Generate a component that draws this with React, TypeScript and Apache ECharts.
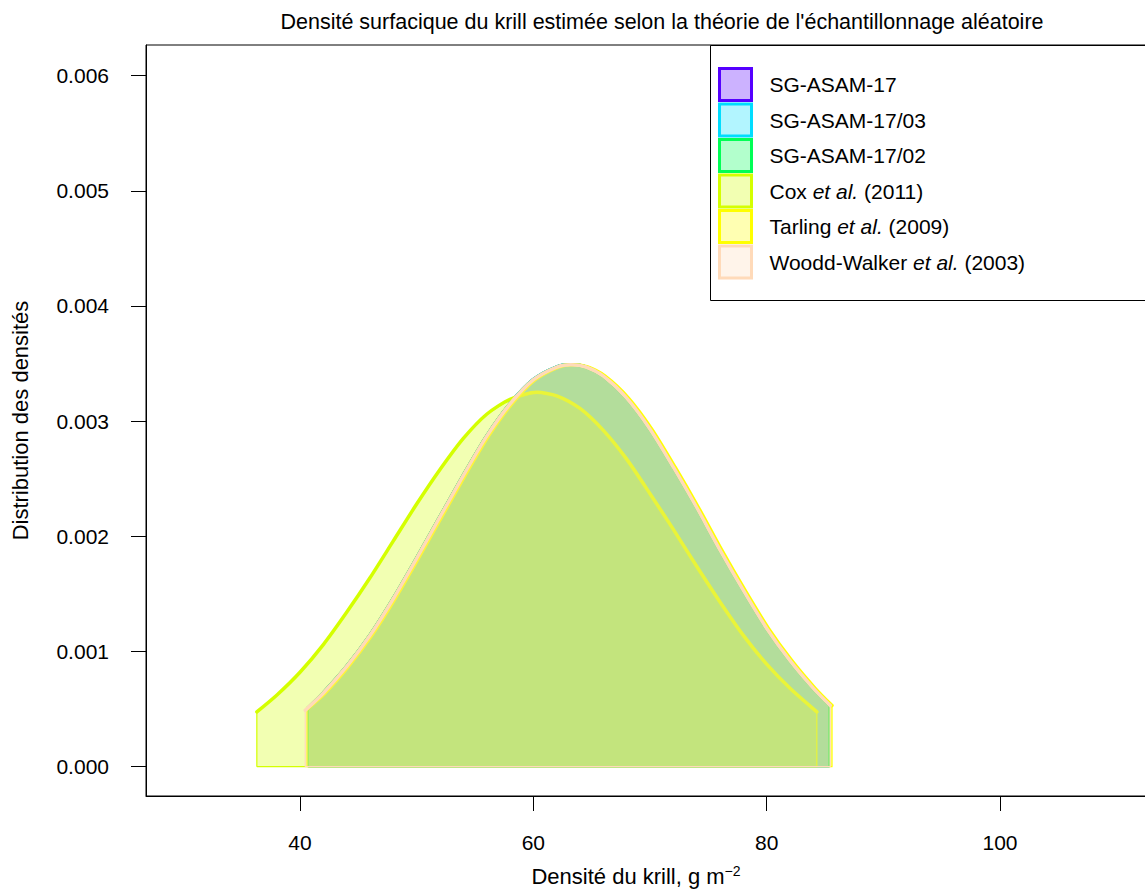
import React, { useEffect, useRef } from "react";
import * as echarts from "echarts";

const FONT = "'Liberation Sans', Arial, Helvetica, sans-serif";

const titleText = "Densité surfacique du krill estimée selon la théorie de l'échantillonnage aléatoire";
const xAxisTitle = "Densité du krill, g m{sup|−2}";
const yAxisTitle = "Distribution des densités";

const seriesNames = [
  "SG-ASAM-17",
  "SG-ASAM-17/03",
  "SG-ASAM-17/02",
  "Cox et al. (2011)",
  "Tarling et al. (2009)",
  "Woodd-Walker et al. (2003)",
];
const lineColors = ["#5500ff", "#00ddff", "#00ff55", "#d4ff00", "#ffff00", "#ffdab9"];
const fillColors = [
  "rgba(85,0,255,0.3)",
  "rgba(0,221,255,0.3)",
  "rgba(0,255,85,0.3)",
  "rgba(212,255,0,0.3)",
  "rgba(255,255,0,0.3)",
  "rgba(255,218,185,0.3)",
];

// SG-ASAM-17, SG-ASAM-17/03 and SG-ASAM-17/02 (curves lie on top of each other)
const sgAsamX = [40.7, 42, 44, 46, 48, 50, 52, 54, 56, 58, 60, 62, 63.2, 64.5, 66, 68, 70, 72, 74, 76, 78, 80, 82, 84, 85.35];
const sgAsamY = [0.00051, 0.00064, 0.00087, 0.00114, 0.00146, 0.00181, 0.00217, 0.00253, 0.00287, 0.00315, 0.00336, 0.00347, 0.00349, 0.00347, 0.00339, 0.0032, 0.00293, 0.0026, 0.00225, 0.00188, 0.00153, 0.0012, 0.00092, 0.00068, 0.00054];

// Cox et al. (2011)
const coxX = [36.3, 38, 40, 42, 44, 46, 48, 50, 52, 54, 56, 58, 60.3, 62, 64, 66, 68, 70, 72, 74, 76, 78, 80, 82, 84.3];
const coxY = [0.000475, 0.00062, 0.00082, 0.00106, 0.00134, 0.00164, 0.00196, 0.00228, 0.00258, 0.00285, 0.00306, 0.00319, 0.00325, 0.00322, 0.00311, 0.00292, 0.00267, 0.00237, 0.00206, 0.00174, 0.00143, 0.00114, 0.00089, 0.00068, 0.000475];

// Tarling et al. (2009)
const tarlingX = [40.6, 42.15, 44.15, 46.15, 48.15, 50.15, 52.15, 54.15, 56.15, 58.15, 60.15, 62.15, 63.35, 64.65, 66.15, 68.15, 70.15, 72.15, 74.15, 76.15, 78.15, 80.15, 82.15, 84.15, 85.6];
const tarlingY = [0.0005, 0.00064, 0.00087, 0.00114, 0.00146, 0.00181, 0.00217, 0.00253, 0.00287, 0.00315, 0.00336, 0.00347, 0.00349, 0.00347, 0.00339, 0.0032, 0.00293, 0.0026, 0.00225, 0.00188, 0.00153, 0.0012, 0.00092, 0.00068, 0.00053];

// Woodd-Walker et al. (2003)
const wwX = [40.45, 42, 44, 46, 48, 50, 52, 54, 56, 58, 60, 62, 63.2, 64.5, 66, 68, 70, 72, 74, 76, 78, 80, 82, 84, 85.45];
const wwY = [0.00049, 0.00064, 0.00087, 0.00114, 0.00146, 0.00181, 0.00217, 0.00253, 0.00287, 0.00315, 0.00336, 0.00347, 0.00349, 0.00347, 0.00339, 0.0032, 0.00293, 0.0026, 0.00225, 0.00188, 0.00153, 0.0012, 0.00092, 0.00068, 0.00053];

const xTicks = [40, 60, 80, 100];
const yTicks = [0, 0.001, 0.002, 0.003, 0.004, 0.005, 0.006];

const curveSets = [
  { x: sgAsamX, y: sgAsamY },
  { x: sgAsamX, y: sgAsamY },
  { x: sgAsamX, y: sgAsamY },
  { x: coxX, y: coxY },
  { x: tarlingX, y: tarlingY },
  { x: wwX, y: wwY },
];

function curvePoints(xs: number[], ys: number[]) {
  return xs.map((x, i) => [x, ys[i]]);
}
function polygonPoints(xs: number[], ys: number[]) {
  const first = xs[0];
  const last = xs[xs.length - 1];
  return [[first, 0], ...curvePoints(xs, ys), [last, 0], [first, 0]];
}

const CHART_W = 1180;

export default function App() {
  const ref = useRef<HTMLDivElement>(null);
  useEffect(() => {
    if (!ref.current) return;
    const chart = echarts.init(ref.current, null, { renderer: "svg" });
    const series: any[] = [];
    let z = 2;
    curveSets.forEach((c, i) => {
      series.push({
        type: "line",
        name: seriesNames[i],
        data: polygonPoints(c.x, c.y),
        z: z++,
        showSymbol: false,
        symbol: "none",
        lineStyle: { color: lineColors[i], width: 1.2, join: "round" },
        itemStyle: { color: lineColors[i] },
        areaStyle: { color: fillColors[i], opacity: 1 },
        silent: true,
      });
      series.push({
        type: "line",
        name: seriesNames[i],
        data: curvePoints(c.x, c.y),
        z: z++,
        showSymbol: false,
        symbol: "none",
        smooth: 0.25,
        lineStyle: { color: lineColors[i], width: 3.5, cap: "round", join: "round" },
        itemStyle: { color: lineColors[i] },
        silent: true,
      });
    });
    chart.setOption({
      animation: false,
      title: {
        text: titleText,
        left: 662,
        top: 11,
        padding: 0,
        textAlign: "center",
        textVerticalAlign: "top",
        textStyle: { fontSize: 21.5, fontWeight: "normal", color: "#000", fontFamily: FONT },
      },
      grid: {
        left: 146,
        top: 45,
        right: CHART_W - 1177,
        bottom: 95.3,
        show: true,
        borderColor: "#000",
        borderWidth: 1,
        backgroundColor: "transparent",
      },
      xAxis: {
        type: "value",
        min: 26.8,
        max: 115.17,
        splitLine: { show: false },
        axisLine: { show: true, onZero: false, lineStyle: { color: "#000", width: 1 } },
        axisTick: { show: true, length: 15, customValues: xTicks, lineStyle: { color: "#000" } },
        axisLabel: { customValues: xTicks, fontSize: 21, color: "#000", margin: 35.5, fontFamily: FONT },
        name: xAxisTitle,
        nameLocation: "middle",
        nameGap: 68,
        nameTextStyle: {
          fontSize: 22,
          color: "#000",
          fontFamily: FONT,
          padding: [0, 51, 0, 0],
          rich: {
            sup: { fontSize: 14, color: "#000", fontFamily: FONT, verticalAlign: "top", lineHeight: 24 },
          },
        },
      },
      yAxis: {
        type: "value",
        min: -0.000255,
        max: 0.006266,
        splitLine: { show: false },
        axisLine: { show: true, onZero: false, lineStyle: { color: "#000", width: 1 } },
        axisTick: { show: true, length: 15, customValues: yTicks, lineStyle: { color: "#000" } },
        axisLabel: {
          customValues: yTicks,
          fontSize: 21,
          color: "#000",
          margin: 37,
          fontFamily: FONT,
          formatter: (v: number) => v.toFixed(3),
        },
        name: yAxisTitle,
        nameLocation: "middle",
        nameGap: 115,
        nameTextStyle: { fontSize: 22, color: "#000", fontFamily: FONT },
      },
      legend: {
        orient: "vertical",
        left: 718,
        top: 67,
        padding: 0,
        itemWidth: 32,
        itemHeight: 32,
        itemGap: 0.5,
        icon: "rect",
        selectedMode: false,
        data: seriesNames.map((n, i) => ({
          name: n,
          icon: "rect",
          itemStyle: { color: fillColors[i], borderColor: lineColors[i], borderWidth: 3 },
        })),
        formatter: (n: string) => n.replace("et al.", "{i|et al.}"),
        textStyle: {
          fontSize: 21,
          color: "#000",
          fontFamily: FONT,
          padding: [0, 0, 0, 13],
          rich: {
            i: { fontSize: 21, color: "#000", fontFamily: FONT, fontStyle: "italic" },
          },
        },
      },
      graphic: [
        {
          type: "rect",
          shape: { x: 710.5, y: 45.5, width: 600, height: 255 },
          style: { fill: "none", stroke: "#000", lineWidth: 1 },
          silent: true,
        },
      ],
      series,
    });
    return () => chart.dispose();
  }, []);
  return (
    <div
      style={{ position: "fixed", left: 0, top: 0, width: 1145, height: 892, overflow: "hidden", background: "#fff" }}
    >
      <div ref={ref} style={{ width: CHART_W, height: 892 }} />
    </div>
  );
}
